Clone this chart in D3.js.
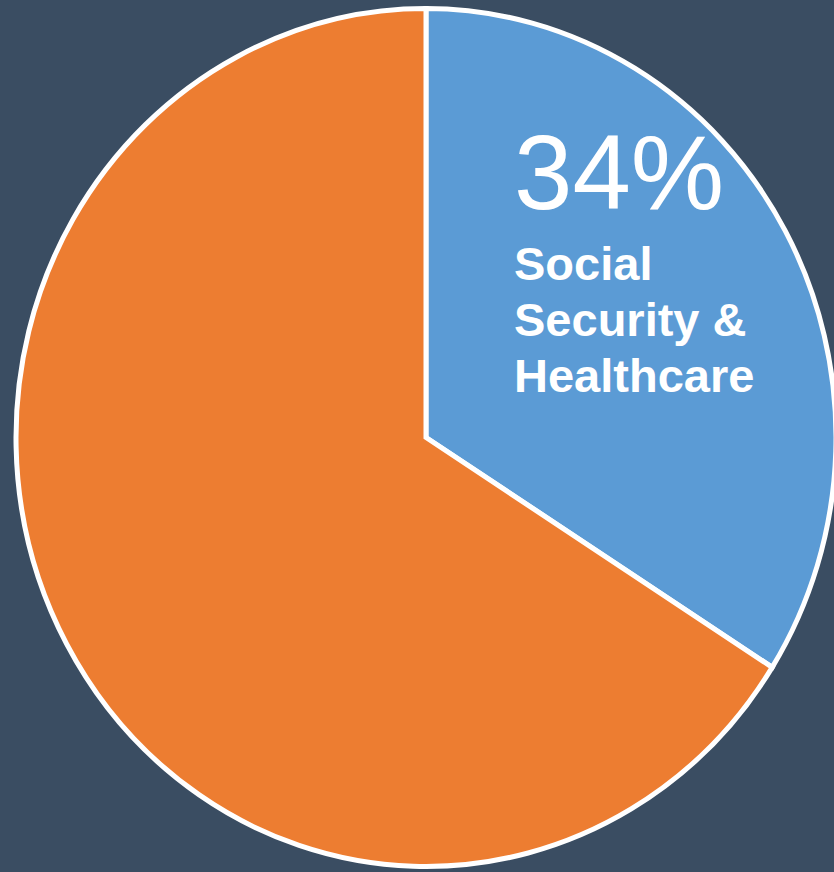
<!DOCTYPE html>
<html>
<head>
<meta charset="utf-8">
<script src="https://cdn.jsdelivr.net/npm/d3@7"></script>
<style>
  html, body { margin: 0; padding: 0; background: #3A4D62; }
  svg { display: block; }
</style>
</head>
<body>
<script>
// Budget share data
const categories = ["Social Security & Healthcare", "Other"];
const shares = [34, 66];
const colors = ["#5B9BD5", "#ED7D31"];
const labelLines = ["Social", "Security &", "Healthcare"];

const W = 834, H = 872;
const cx = 426, cy = 437.5;
const rx = 410, ry = 429;

const svg = d3.select("body").append("svg")
  .attr("width", W).attr("height", H);

svg.append("rect").attr("width", W).attr("height", H).attr("fill", "#3A4D62");

const pie = d3.pie().sort(null).value(d => d.value);
const arcs = pie(categories.map((c, i) => ({ name: c, value: shares[i], color: colors[i] })));

const arc = d3.arc().innerRadius(0).outerRadius(rx);

// Slightly taller than wide, so the circle is stretched vertically
const g = svg.append("g")
  .attr("transform", `translate(${cx},${cy}) scale(1,${ry / rx})`);

g.selectAll("path")
  .data(arcs)
  .join("path")
  .attr("d", arc)
  .attr("fill", d => d.data.color)
  .attr("stroke", "#ffffff")
  .attr("stroke-width", 5)
  .attr("stroke-linejoin", "miter")
  .attr("vector-effect", "non-scaling-stroke");

// Label on the first slice
const lx = 514;
svg.append("text")
  .attr("x", lx).attr("y", 209)
  .attr("fill", "#ffffff")
  .attr("font-family", "Liberation Sans, Arial, sans-serif")
  .attr("font-size", 105)
  .text(`${shares[0]}%`);

svg.append("g").selectAll("text")
  .data(labelLines)
  .join("text")
  .attr("x", lx)
  .attr("y", (d, i) => 280 + i * 56)
  .attr("fill", "#ffffff")
  .attr("font-family", "Liberation Sans, Arial, sans-serif")
  .attr("font-weight", "bold")
  .attr("font-size", 47)
  .text(d => d);
</script>
</body>
</html>
